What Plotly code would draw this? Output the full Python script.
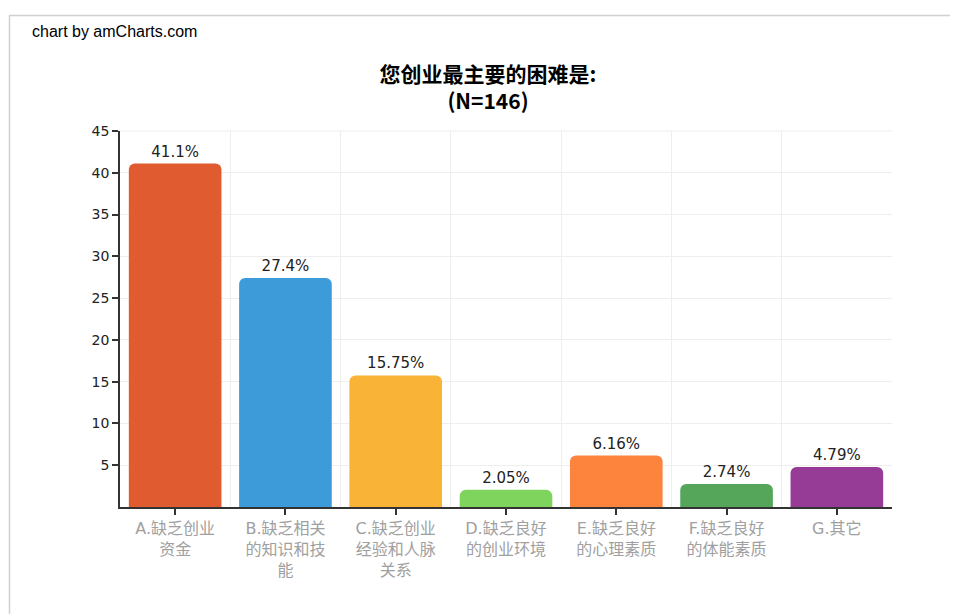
import plotly.graph_objects as go

categories = ["A.缺乏创业<br>资金", "B.缺乏相关<br>的知识和技<br>能", "C.缺乏创业<br>经验和人脉<br>关系",
              "D.缺乏良好<br>的创业环境", "E.缺乏良好<br>的心理素质", "F.缺乏良好<br>的体能素质", "G.其它"]
values = [41.1, 27.4, 15.75, 2.05, 6.16, 2.74, 4.79]
labels = ["41.1%", "27.4%", "15.75%", "2.05%", "6.16%", "2.74%", "4.79%"]
colors = ["#E05C30", "#3E9BDA", "#F9B437", "#7FD45D", "#FD843C", "#55A65A", "#963C96"]
y_ticks = [5, 10, 15, 20, 25, 30, 35, 40, 45]

idx = list(range(len(categories)))

fig = go.Figure(go.Bar(
    x=idx, y=values, text=labels, textposition="outside",
    textfont=dict(family="DejaVu Sans", size=15, color="#222"),
    marker=dict(color=colors, line=dict(width=0)),
    width=0.84, cliponaxis=False, hoverinfo="skip",
))

# page body has an 8px offset
OFF = 8
W, H = 958 - OFF, 614 - OFF
L, R, T, B = 120 - OFF, 66, 131 - OFF, 107
pw, ph = W - L - R, H - T - B

def px(xp):
    return (xp - OFF - L) / pw

def py(yp):
    return (H - B - (yp - OFF)) / ph

fig.update_layout(
    width=W, height=H,
    margin=dict(l=L, r=R, t=T, b=B, pad=0),
    paper_bgcolor="white", plot_bgcolor="white",
    barcornerradius=6,
    showlegend=False,
    title=dict(text="<b>您创业最主要的困难是:<br>(N=146)</b>",
               font=dict(family="Noto Sans CJK SC", size=21, color="#000"),
               x=(488 - OFF) / W, xref="container", xanchor="center",
               y=1 - 74 / H, yref="container", yanchor="top"),
    xaxis=dict(range=[-0.5, 6.5], tickvals=idx, ticktext=categories,
               showgrid=False, zeroline=False,
               showline=True, linecolor="#333", linewidth=1.5,
               ticks="outside", ticklen=6, tickcolor="#333", tickwidth=1.5,
               tickfont=dict(family="DejaVu Sans, Noto Sans CJK SC", size=16, color="#a0a0a0"),
               minor=dict(tickvals=[i + 0.5 for i in idx], showgrid=True,
                          gridcolor="#eeeeee", gridwidth=1, ticks=""),
               fixedrange=True),
    yaxis=dict(range=[0, 45], tickvals=y_ticks, showgrid=True, gridcolor="#eeeeee",
               zeroline=False, showline=True, linecolor="#333", linewidth=1.5,
               ticks="outside", ticklen=6, tickcolor="#333", tickwidth=1.5,
               tickfont=dict(family="DejaVu Sans", size=14, color="#222"),
               fixedrange=True),
    annotations=[dict(text="chart by amCharts.com", xref="paper", yref="paper",
                      x=px(30), y=py(31), xanchor="left", yanchor="middle",
                      showarrow=False,
                      font=dict(family="Liberation Sans", size=16, color="#000"))],
    shapes=[
        dict(type="line", xref="paper", yref="paper", x0=px(9), x1=px(958), y0=py(15.5), y1=py(15.5),
             line=dict(color="#d0d0d0", width=1.5)),
        dict(type="line", xref="paper", yref="paper", x0=px(9.5), x1=px(9.5), y0=py(15), y1=py(614),
             line=dict(color="#d0d0d0", width=1.5)),
        dict(type="line", xref="paper", yref="paper", x0=0, x1=1, y0=1, y1=1,
             line=dict(color="#eeeeee", width=1), layer="below"),
    ],
)

fig.write_html("out.html")
